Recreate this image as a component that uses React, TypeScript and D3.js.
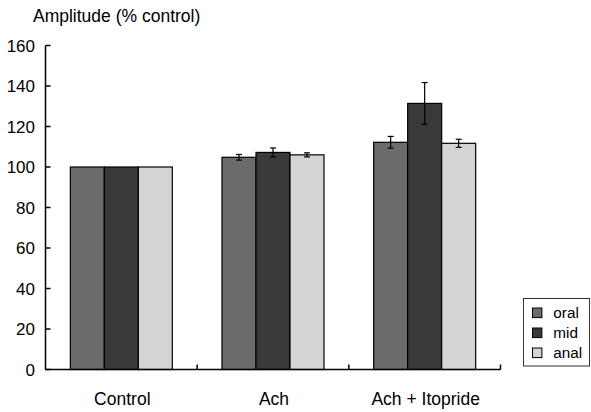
import React from "react";
import * as d3 from "d3";

const categories = ["Control", "Ach", "Ach + Itopride"];
const seriesNames = ["oral", "mid", "anal"];
const oralValues = [100, 104.8, 112.2];
const midValues = [100, 107.2, 131.4];
const analValues = [100, 106.0, 111.7];
const oralErr = [0, 1.4, 2.9];
const midErr = [0, 2.2, 10.3];
const analErr = [0, 1.0, 2.0];
const yTicks = [0, 20, 40, 60, 80, 100, 120, 140, 160];
const colors = ["#6b6b6b", "#393939", "#d4d4d4"];

const W = 591, H = 412;
const FONT = "'Liberation Sans', Arial, sans-serif";

export default function App() {
  const x0 = 45.5, x1 = 500.5;
  const y = d3.scaleLinear().domain([0, 160]).range([369.5, 45.5]);
  const xBand = d3.scaleBand().domain(categories).range([x0, x1]).paddingInner(0).paddingOuter(0);
  const groupW = 102;
  const xSub = d3.scaleBand().domain(seriesNames).range([0, groupW]).padding(0);
  const values = [oralValues, midValues, analValues];
  const errs = [oralErr, midErr, analErr];

  return (
    <svg width={W} height={H} style={{ position: "absolute", left: 0, top: 0, background: "#fff" }} fontFamily={FONT}>
      <text x={33} y={21.7} fontSize={17.5} fill="#000">Amplitude (% control)</text>
      {/* bars */}
      {categories.map((c, ci) => {
        const gx = xBand(c)! + (xBand.bandwidth() - groupW) / 2;
        return seriesNames.map((s, si) => {
          const v = values[si][ci];
          const e = errs[si][ci];
          const bx = gx + xSub(s)!;
          const cx = bx + xSub.bandwidth() / 2;
          return (
            <g key={c + s}>
              <rect x={bx} y={y(v)} width={xSub.bandwidth()} height={y(0) - y(v)} fill={colors[si]} stroke="#000" strokeWidth={1.2} />
              {e > 0 && (
                <g stroke="#000" strokeWidth={1.2}>
                  <line x1={cx} x2={cx} y1={y(v + e)} y2={y(v - e)} />
                  <line x1={cx - 3} x2={cx + 3} y1={y(v + e)} y2={y(v + e)} />
                  <line x1={cx - 3} x2={cx + 3} y1={y(v - e)} y2={y(v - e)} />
                </g>
              )}
            </g>
          );
        });
      })}
      {/* y axis */}
      <line x1={x0} x2={x0} y1={y(160)} y2={y(0)} stroke="#000" strokeWidth={1.5} />
      {yTicks.map((t) => (
        <g key={t}>
          <line x1={x0} x2={x0 + 5} y1={y(t)} y2={y(t)} stroke="#000" strokeWidth={1.5} />
          <text x={35} y={y(t)} dy="0.36em" textAnchor="end" fontSize={17} fill="#000">{t}</text>
        </g>
      ))}
      {/* x axis */}
      <line x1={x0} x2={x1} y1={y(0)} y2={y(0)} stroke="#000" strokeWidth={1.5} />
      {categories.map((c) => {
        const tx = xBand(c)! + xBand.bandwidth();
        return <line key={"t" + c} x1={tx} x2={tx} y1={y(0)} y2={y(0) - 5} stroke="#000" strokeWidth={1.5} />;
      })}
      {categories.map((c) => (
        <text key={"l" + c} x={xBand(c)! + xBand.bandwidth() / 2 + 1} y={405} textAnchor="middle" fontSize={17.5} fill="#000">{c}</text>
      ))}
      {/* legend */}
      <rect x={523.5} y={298.5} width={66} height={67.5} fill="#fff" stroke="#333" strokeWidth={1} />
      {seriesNames.map((s, si) => {
        const cy = 312.7 + si * 20;
        return (
          <g key={"lg" + s}>
            <rect x={532.5} y={cy - 4.7} width={9.4} height={9.6} fill={colors[si]} stroke="#000" strokeWidth={1} />
            <text x={553.3} y={cy} dy="0.36em" fontSize={15.3} fill="#000">{s}</text>
          </g>
        );
      })}
    </svg>
  );
}
